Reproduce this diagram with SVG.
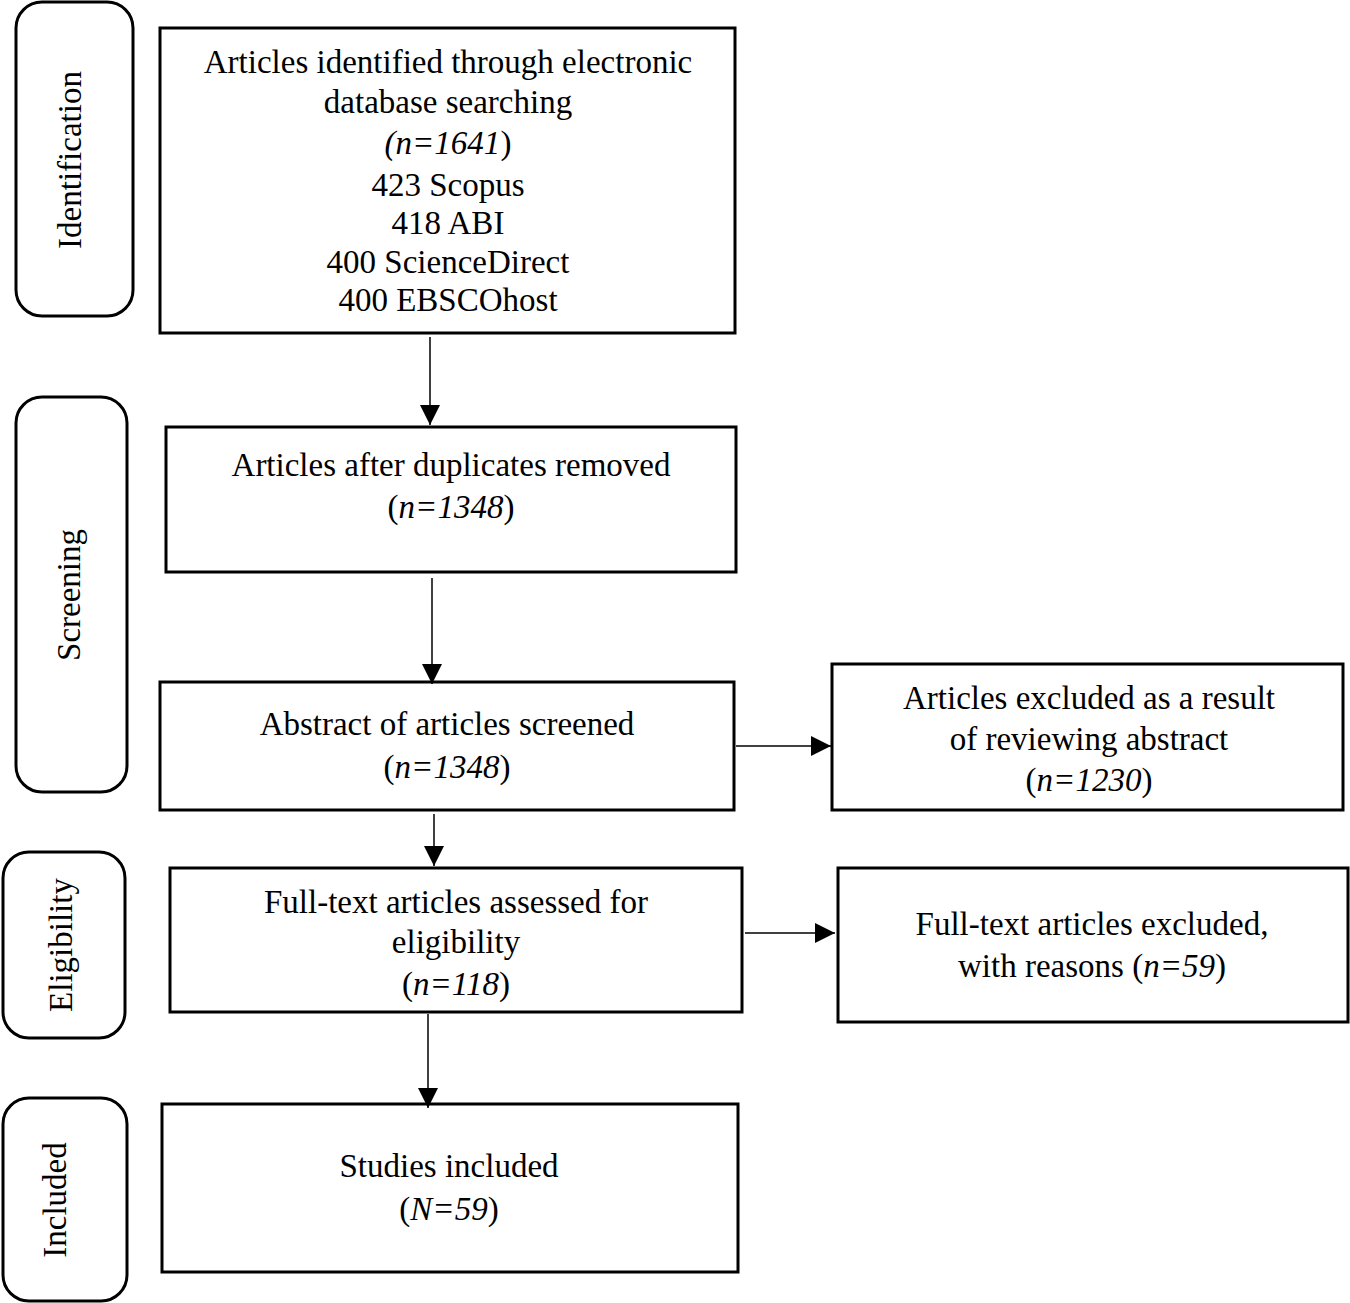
<svg xmlns="http://www.w3.org/2000/svg" width="1350" height="1303" viewBox="0 0 1350 1303">
<style>
.box{fill:#fff;stroke:#000;stroke-width:3}
.stage{fill:#fff;stroke:#000;stroke-width:3}
text{font-family:"Liberation Serif","Times New Roman",serif;font-size:33px;fill:#000;text-anchor:middle}
.i{font-style:italic}
.con line{stroke:#000;stroke-width:1.5}
</style>
<defs>
<marker id="av" markerWidth="20" markerHeight="20" refX="20" refY="10" orient="auto" markerUnits="userSpaceOnUse">
<path d="M0,0 L20,10 L0,20 Z" fill="#000"/>
</marker>
</defs>

<g id="stage-identification">
<rect class="stage" x="16" y="2" width="117" height="314" rx="26"/>
<text transform="translate(81,160) rotate(-90)">Identification</text>
</g>
<g id="stage-screening">
<rect class="stage" x="16" y="397" width="111" height="395" rx="26"/>
<text transform="translate(80,595) rotate(-90)">Screening</text>
</g>
<g id="stage-eligibility">
<rect class="stage" x="3" y="852" width="122" height="186" rx="26"/>
<text transform="translate(72,945) rotate(-90)">Eligibility</text>
</g>
<g id="stage-included">
<rect class="stage" x="3" y="1098" width="124" height="203" rx="26"/>
<text transform="translate(66,1200) rotate(-90)">Included</text>
</g>

<g id="box-identified">
<rect class="box" x="160" y="28" width="575" height="305"/>
<text x="448" y="73">Articles identified through electronic</text>
<text x="448" y="113">database searching</text>
<text x="448" y="154"><tspan class="i">(n=1641</tspan>)</text>
<text x="448" y="196">423 Scopus</text>
<text x="448" y="234">418 ABI</text>
<text x="448" y="273">400 ScienceDirect</text>
<text x="448" y="311">400 EBSCOhost</text>
</g>

<g id="box-duplicates">
<rect class="box" x="166" y="427" width="570" height="145"/>
<text x="451" y="476">Articles after duplicates removed</text>
<text x="451" y="518">(<tspan class="i">n=1348</tspan>)</text>
</g>

<g id="box-abstract">
<rect class="box" x="160" y="682" width="574" height="128"/>
<text x="447" y="735">Abstract of articles screened</text>
<text x="447" y="778">(<tspan class="i">n=1348</tspan>)</text>
</g>

<g id="box-excluded-abstract">
<rect class="box" x="832" y="664" width="511" height="146"/>
<text x="1089" y="709">Articles excluded as a result</text>
<text x="1089" y="750">of reviewing abstract</text>
<text x="1089" y="791">(<tspan class="i">n=1230</tspan>)</text>
</g>

<g id="box-fulltext">
<rect class="box" x="170" y="868" width="572" height="144"/>
<text x="456" y="913">Full-text articles assessed for</text>
<text x="456" y="953">eligibility</text>
<text x="456" y="995">(<tspan class="i">n=118</tspan>)</text>
</g>

<g id="box-excluded-fulltext">
<rect class="box" x="838" y="868" width="510" height="154"/>
<text x="1092" y="935">Full-text articles excluded,</text>
<text x="1092" y="977">with reasons (<tspan class="i">n=59</tspan>)</text>
</g>

<g id="box-included">
<rect class="box" x="162" y="1104" width="576" height="168"/>
<text x="449" y="1177">Studies included</text>
<text x="449" y="1220">(<tspan class="i">N=59</tspan>)</text>
</g>

<g id="connectors" class="con">
<line x1="430" y1="337" x2="430" y2="425" marker-end="url(#av)"/>
<line x1="432" y1="578" x2="432" y2="684" marker-end="url(#av)"/>
<line x1="434" y1="814" x2="434" y2="866" marker-end="url(#av)"/>
<line x1="428" y1="1014" x2="428" y2="1108" marker-end="url(#av)"/>
<line x1="736" y1="746" x2="831" y2="746" marker-end="url(#av)"/>
<line x1="745" y1="933" x2="835" y2="933" marker-end="url(#av)"/>
</g>
</svg>
